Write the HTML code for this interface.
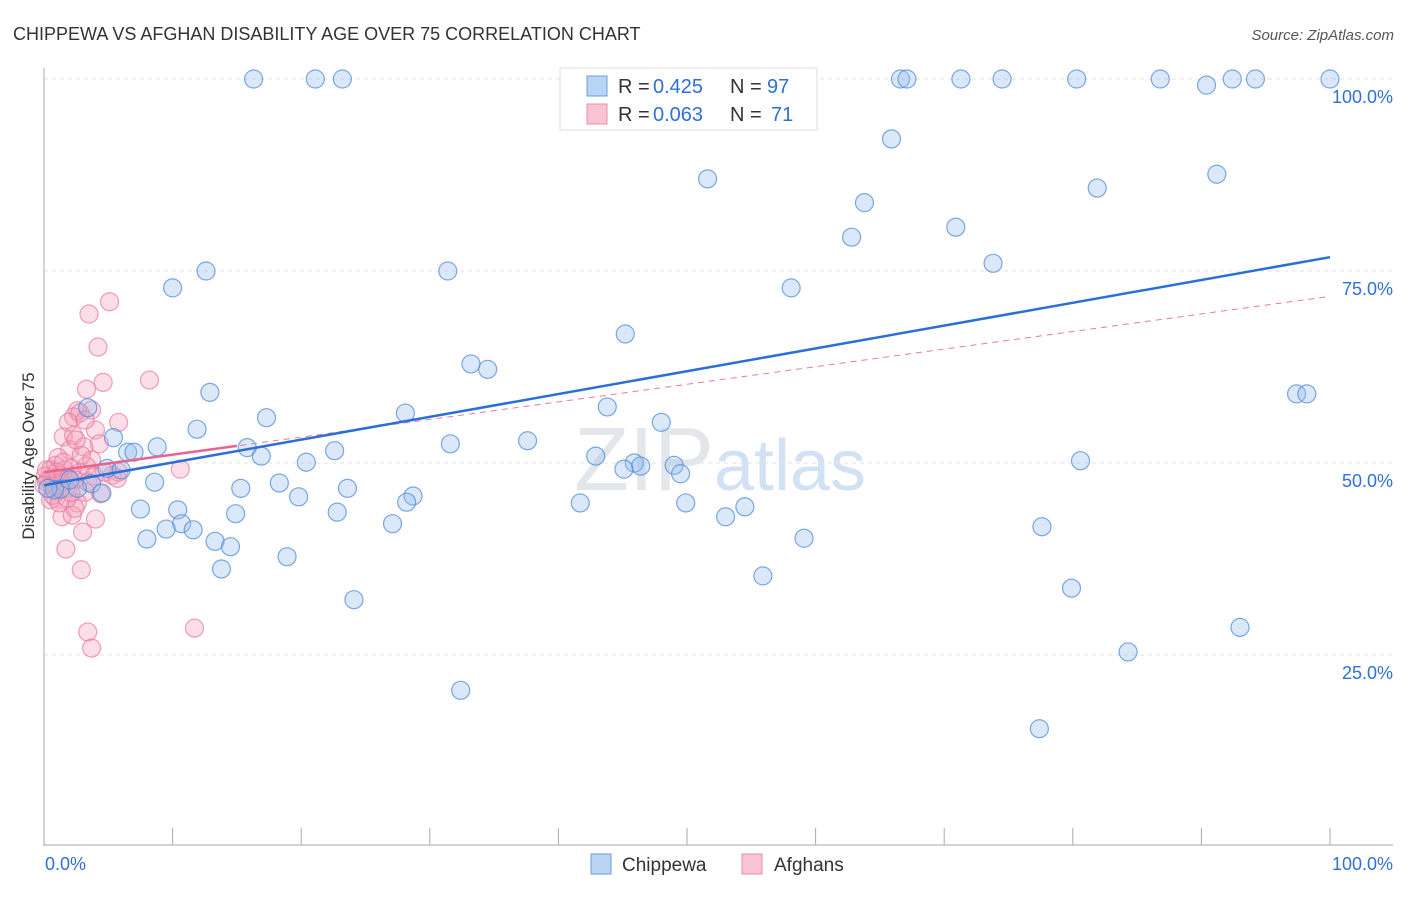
<!DOCTYPE html>
<html><head><meta charset="utf-8"><style>
body{margin:0;background:#fff;font-family:"Liberation Sans",sans-serif}
svg text{font-family:"Liberation Sans",sans-serif}
</style></head><body>
<svg id="chart" width="1406" height="892" xmlns="http://www.w3.org/2000/svg">
<text x="13" y="40" font-size="18" fill="#333">CHIPPEWA VS AFGHAN DISABILITY AGE OVER 75 CORRELATION CHART</text>
<text x="1394" y="40" font-size="15" fill="#555" text-anchor="end" font-style="italic">Source: ZipAtlas.com</text>
<text x="720" y="490" font-size="90" fill="#e3e7ec" text-anchor="middle" font-family="Liberation Serif">ZIP<tspan fill="#d2e1f3" font-family="Liberation Sans" font-size="72">atlas</tspan></text>
<g id="grid"></g><g id="axes"></g><g id="pts"></g><g id="lines"></g>
<text transform="translate(34,456) rotate(-90)" font-size="17" fill="#333" text-anchor="middle">Disability Age Over 75</text>
<g>
<rect x="560" y="68" width="257" height="62" fill="#fff" stroke="#ddd"/>
<rect x="587" y="76" width="20" height="20" fill="#b8d3f3" stroke="#6a9fdc"/>
<text x="618" y="93" font-size="20" fill="#333">R = </text>
<text x="653" y="93" font-size="20" fill="#2f6fd6">0.425</text>
<text x="730" y="93" font-size="20" fill="#333">N =</text>
<text x="767" y="93" font-size="20" fill="#2f6fd6">97</text>
<rect x="587" y="104" width="20" height="20" fill="#f8c3d3" stroke="#e890ac"/>
<text x="618" y="121" font-size="20" fill="#333">R = </text>
<text x="653" y="121" font-size="20" fill="#2f6fd6">0.063</text>
<text x="730" y="121" font-size="20" fill="#333">N =</text>
<text x="771" y="121" font-size="20" fill="#2f6fd6">71</text>
</g>
<g><rect x="591" y="854" width="20" height="20" fill="#b8d3f3" stroke="#6a9fdc"/><text x="622" y="871" font-size="19" fill="#333">Chippewa</text></g>
<g><rect x="742" y="854" width="20" height="20" fill="#f8c3d3" stroke="#e890ac"/><text x="774" y="871" font-size="19" fill="#333">Afghans</text></g>
</svg>
<script>
const blueX=[16.3,21.1,23.2,66.6,67.1,71.3,74.5,80.3,86.8,90.4,92.4,94.2,100,65.9,51.6,91.2,81.9,63.8,62.8,70.9,73.8,12.6,31.4,10.0,58.1,45.2,33.2,34.5,12.9,97.4,98.2,3.4,43.8,28.1,17.3,48.0,5.4,11.9,37.6,31.6,8.8,22.6,15.8,6.5,7.0,16.9,42.9,20.4,80.6,45.9,46.4,45.1,49.0,49.5,4.9,6.0,8.6,18.3,3.7,23.6,15.3,1.3,4.5,0.8,19.8,28.7,28.2,41.7,49.9,7.5,10.4,22.8,14.9,54.5,53.0,10.7,11.6,9.5,27.1,77.6,8.0,13.3,59.1,14.5,18.9,13.8,55.9,79.9,24.1,93.0,84.3,32.4,77.4,2.6,2.0,0.3];
const blueY=[100,100,100,100,100,100,100,100,100,99.2,100,100,100,92.2,87.0,87.6,85.8,83.9,79.4,80.7,76.0,75.0,75.0,72.8,72.8,66.8,62.9,62.2,59.2,59.0,59.0,57.2,57.3,56.5,55.9,55.3,53.3,54.4,52.9,52.5,52.1,51.6,52.0,51.4,51.4,50.9,50.9,50.1,50.3,50.0,49.6,49.2,49.7,48.6,49.3,49.1,47.5,47.4,47.3,46.7,46.7,46.6,46.1,46.5,45.6,45.7,44.9,44.8,44.8,44.0,43.9,43.6,43.4,44.3,43.0,42.1,41.3,41.4,42.1,41.7,40.1,39.8,40.2,39.1,37.8,36.2,35.3,33.7,32.2,28.6,25.4,20.4,15.4,46.7,47.8,46.7];
const pinkX=[5.1,3.5,4.2,4.6,3.3,8.2,3.7,2.6,2.3,2.8,5.8,1.9,4.0,1.5,2.3,4.3,2.0,3.1,1.1,3.7,0.5,0.9,1.6,2.2,2.8,3.3,1.2,0.8,0.3,1.4,1.9,2.4,0.6,1.1,1.7,0.2,0.1,0.2,5.3,5.8,10.6,4.4,3.2,0.9,0.5,2.6,4.0,1.4,2.2,2.4,3.0,1.7,2.9,3.4,3.7,11.7,0.7,1.2,1.8,2.1,3.4,3.9,1.0,1.5,2.9,2.5,3.2,4.7,5.7,0];
const pinkY=[71.0,69.4,65.1,60.5,59.6,60.8,56.9,56.8,56.0,56.5,55.3,55.3,54.3,53.4,53.6,52.5,51.7,52.1,50.7,50.4,49.1,49.7,49.1,49.3,48.8,49.6,48.4,48.0,47.8,47.4,48.0,47.8,47.1,46.5,46.7,47.5,48.3,49.1,48.4,48.8,49.2,46.0,46.2,45.4,45.2,44.8,42.7,43.0,43.2,44.1,41.0,38.8,36.1,28.0,25.9,28.5,45.8,44.8,45.4,46.1,47.5,48.3,48.8,50.1,51.0,53.0,55.6,48.8,48.0,47.1];
const yTicks=[100,75,50,25];
const yTickLabels=["100.0%","75.0%","50.0%","25.0%"];
const xTicks=[0,10,20,30,40,50,60,70,80,90,100];
const blueFit=[47.1,0.297];
const pinkFit=[48.8,0.229];
const NS="http://www.w3.org/2000/svg";
const sx=v=>44+v*12.86, sy=v=>847-v*7.68;
function mk(tag,attrs,parent){const e=document.createElementNS(NS,tag);for(const k in attrs)e.setAttribute(k,attrs[k]);document.getElementById(parent).appendChild(e);return e;}
yTicks.forEach((t,i)=>{
 const l=mk('line',{x1:44,x2:1393,y1:sy(t),y2:sy(t),stroke:'#e2e2e2','stroke-dasharray':'4,4'},'grid');
 
 
 const tx=mk('text',{x:1393,y:sy(t)+24,'font-size':18,fill:'#2f6fd6','text-anchor':'end'},'grid');
 tx.textContent=yTickLabels[i];
 
 
});
let a=mk('line',{x1:44,x2:44,y1:68,y2:846,stroke:'#aaa'},'axes');


a=mk('line',{x1:44,x2:1393,y1:845,y2:845,stroke:'#aaa'},'axes');


xTicks.forEach(t=>{const l=mk('line',{x1:sx(t),x2:sx(t),y1:828,y2:845,stroke:'#aaa'},'axes');
 
 });
let t0=mk('text',{x:45,y:870,'font-size':18,fill:'#2f6fd6'},'axes');t0.textContent='0.0%';


t0=mk('text',{x:1393,y:870,'font-size':18,fill:'#2f6fd6','text-anchor':'end'},'axes');t0.textContent='100.0%';


pinkX.forEach((x,i)=>{const c=mk('circle',{cx:sx(x),cy:sy(pinkY[i]),r:9,fill:'rgba(244,160,186,0.35)',stroke:'rgba(232,120,156,0.7)','stroke-width':1.2},'pts');
 
 });
blueX.forEach((x,i)=>{const c=mk('circle',{cx:sx(x),cy:sy(blueY[i]),r:9,fill:'rgba(150,190,238,0.35)',stroke:'rgba(80,140,215,0.75)','stroke-width':1.2},'pts');
 
 });
let ln=mk('line',{x1:sx(0),y1:sy(pinkFit[0]),x2:sx(100),y2:sy(pinkFit[0]+pinkFit[1]*100),stroke:'#e87a9e','stroke-width':1,'stroke-dasharray':'6,5'},'lines');


ln=mk('line',{x1:sx(0),y1:sy(pinkFit[0]),x2:sx(15),y2:sy(pinkFit[0]+pinkFit[1]*15),stroke:'#e8648e','stroke-width':2.5},'lines');


ln=mk('line',{x1:sx(0),y1:sy(blueFit[0]),x2:sx(100),y2:sy(blueFit[0]+blueFit[1]*100),stroke:'#2a6fd6','stroke-width':2.5},'lines');


</script>
</body></html>
